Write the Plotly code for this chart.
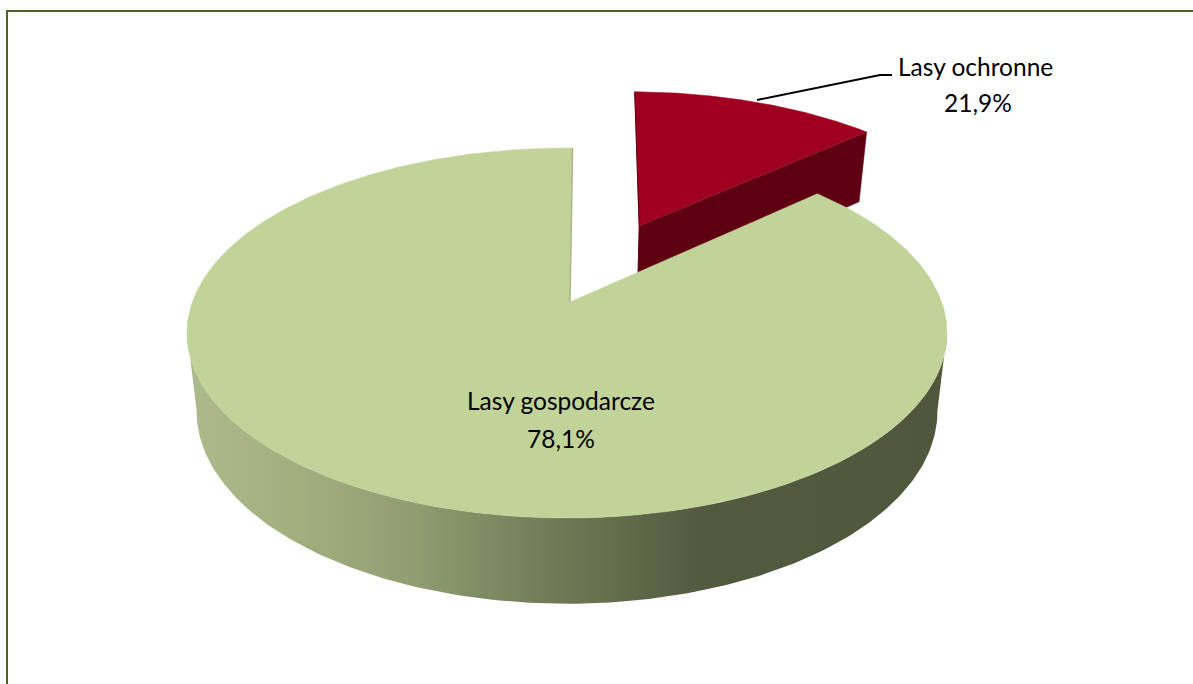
import numpy as np
import plotly.graph_objects as go

# Labels as printed on the chart
labels = ["Lasy gospodarcze", "Lasy ochronne"]
label_values = ["78,1%", "21,9%"]

# Slice sizes as drawn in the picture (degrees of the pie, they differ from the printed labels)
slice_degrees = [313.0, 47.0]
first_slice_angle = 1.0
explode = [0.0, 0.5]

top_colors = ["#C2D39A", "#A0001F"]
wall_dark_red = "#5F0012"
side_stops = [(0.0, "#ADBB8C"), (0.15, "#A1AF7F"), (0.30, "#8F9D71"),
              (0.50, "#6C7854"), (0.68, "#525A3F"), (1.0, "#50573D")]

# Projection of the tilted disc onto the page, in px
cx, cy = 567.0, 302.0
rx, ry, persp = 374.6, 179.8, -0.1676
depth_base, depth_slope, depth_ref, depth_scale = 69.7, 0.0412, 130.0, 0.975
green_apex_shift = 3.0


def top_xy(u, v):
    u, v = np.asarray(u, float), np.asarray(v, float)
    d = 1 + persp * v
    return cx + rx * u / d, cy + ry * v / d


def low_xy(x, y):
    return cx + depth_scale * (x - cx), y + depth_base + depth_slope * (y - depth_ref)


def arc(start, sweep, shift=(0, 0), n=360):
    t = np.radians(np.linspace(start, start + sweep, n))
    return top_xy(shift[0] + np.sin(t), shift[1] - np.cos(t))


red_start = first_slice_angle
red_sweep = slice_degrees[1]
green_start = red_start + red_sweep
green_sweep = slice_degrees[0]

mid = np.radians(red_start + red_sweep / 2)
red_shift = (explode[1] * np.sin(mid), -explode[1] * np.cos(mid))

fig = go.Figure()


def poly(xs, ys, color):
    fig.add_trace(go.Scatter(x=xs, y=ys, mode="lines", fill="toself", fillcolor=color,
                             line=dict(color=color, width=0.5), hoverinfo="skip", showlegend=False))


def edge(xs, ys, color, width):
    fig.add_trace(go.Scatter(x=xs, y=ys, mode="lines", line=dict(color=color, width=width),
                             hoverinfo="skip", showlegend=False))


# Red slice, exploded backwards
rx_arc, ry_arc = arc(red_start, red_sweep, red_shift)
ax, ay = top_xy(*red_shift)
corner_x, corner_y = rx_arc[-1], ry_arc[-1]
lcx, lcy = low_xy(corner_x, corner_y)
lax, lay = low_xy(ax, ay)
poly([ax, corner_x, lcx, lax], [ay, corner_y, lcy, lay], wall_dark_red)
poly(np.r_[ax, rx_arc], np.r_[ay, ry_arc], top_colors[1])
edge([rx_arc[0], ax, lax], [ry_arc[0], ay, lay], wall_dark_red, 1)

# Green slice: side wall with gradient between the two widest points, then the top face
gx, gy = arc(green_start, green_sweep)
i_right, i_left = int(np.argmax(gx)), int(np.argmin(gx))
fx, fy = gx[i_right:i_left + 1], gy[i_right:i_left + 1]
lx, ly = low_xy(fx, fy)
fig.add_trace(go.Scatter(
    x=np.r_[fx, lx[::-1]], y=np.r_[fy, ly[::-1]], mode="lines", fill="toself",
    line=dict(width=0),
    fillgradient=dict(type="horizontal", colorscale=side_stops, start=float(cx - rx - 6), stop=float(cx + rx + 6)),
    hoverinfo="skip", showlegend=False))
poly(np.r_[cx + green_apex_shift, gx], np.r_[cy, gy], top_colors[0])
edge([gx[-1], cx + green_apex_shift], [gy[-1], cy], "#A9B78B", 1.5)

# Leader line of the red label
leader_x = [757, 880, 892]
leader_y = [100, 75, 75]
edge(leader_x, leader_y, "#000000", 2)

# Chart frame: only the left and top edges are in view
frame_x = [7, 7, 1193]
frame_y = [684, 11, 11]
edge(frame_x, frame_y, "#4F6228", 2)

label_x = [561, 975]
label_y = [400, 66]
value_x = [561, 978]
value_y = [438, 102]
for i in range(2):
    fig.add_annotation(x=label_x[i], y=label_y[i], text=labels[i], showarrow=False,
                       font=dict(family="Lato", size=24.5, color="#000000"))
    fig.add_annotation(x=value_x[i], y=value_y[i], text=label_values[i], showarrow=False,
                       font=dict(family="Lato", size=24.5, color="#000000"))

fig.update_layout(
    width=1193, height=684, autosize=False,
    margin=dict(l=0, r=0, t=0, b=0),
    paper_bgcolor="#FFFFFF", plot_bgcolor="#FFFFFF",
    xaxis=dict(range=[0, 1193], visible=False, fixedrange=True),
    yaxis=dict(range=[684, 0], visible=False, fixedrange=True),
    showlegend=False,
)

fig.write_html("out.html", config={"displayModeBar": False},
               post_script="document.body.style.margin='0';document.body.style.overflow='hidden';")
